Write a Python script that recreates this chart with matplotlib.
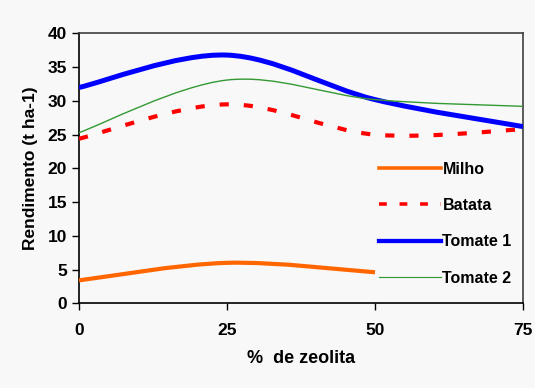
import numpy as np
import matplotlib
matplotlib.use("Agg")
import matplotlib.pyplot as plt
from matplotlib.path import Path
from matplotlib.patches import PathPatch
from matplotlib.lines import Line2D

x_milho = [0, 25, 50]
milho = [3.4, 6.0, 4.6]
x_all = [0, 25, 50, 75]
batata = [24.4, 29.5, 25.0, 25.8]
tomate1 = [32.0, 36.8, 30.2, 26.2]
tomate2 = [25.3, 33.1, 30.2, 29.2]

xticks = [0, 25, 50, 75]
yticks = [0, 5, 10, 15, 20, 25, 30, 35, 40]

plt.rcParams['font.family'] = ['Liberation Sans', 'DejaVu Sans']
plt.rcParams['font.weight'] = 'bold'

fig = plt.figure(figsize=(5.35, 3.88), dpi=100, facecolor='#f8f8f8')
ax = fig.add_axes([79/535, 1-303.3/388, 444/535, 269.8/388])
ax.set_facecolor('#f8f8f8')


def smooth_path(xs, ys):
    pts = np.column_stack([xs, ys]).astype(float)
    n = len(pts)
    verts = [pts[0]]
    codes = [Path.MOVETO]
    for i in range(n - 1):
        p0 = pts[i - 1] if i > 0 else pts[i]
        p1 = pts[i]
        p2 = pts[i + 1]
        p3 = pts[i + 2] if i + 2 < n else pts[i + 1]
        c1 = p1 + (p2 - p0) / 6.0
        c2 = p2 - (p3 - p1) / 6.0
        verts += [c1, c2, p2]
        codes += [Path.CURVE4] * 3
    return Path(verts, codes)


series = [
    (x_milho, milho, '#ff6600', 3.0, '-', 'Milho'),
    (x_all, batata, '#ff0000', 3.0, (0, (2.2, 3.6)), 'Batata'),
    (x_all, tomate1, '#0000ff', 3.6, '-', 'Tomate 1'),
    (x_all, tomate2, '#339933', 1.0, '-', 'Tomate 2'),
]
handles = []
for xs, ys, c, lw, ls, lab in series:
    patch = PathPatch(smooth_path(xs, ys), facecolor='none', edgecolor=c,
                      lw=lw, linestyle=ls, capstyle='butt', zorder=3)
    ax.add_patch(patch)
    handles.append(Line2D([], [], color=c, lw=lw * 0.85, linestyle=ls, label=lab))

ax.set_xlim(0, 75)
ax.set_ylim(0, 40)
ax.set_xticks(xticks)
ax.set_yticks(yticks)
ax.tick_params(axis='both', direction='out', length=5, width=1,
               colors='black', labelsize=12.5)
ax.tick_params(axis='x', pad=9)
for lab in ax.get_xticklabels() + ax.get_yticklabels():
    lab.set_fontweight('bold')
for s in ['left', 'bottom']:
    ax.spines[s].set_color('black')
    ax.spines[s].set_linewidth(1.2)
for s in ['top', 'right']:
    ax.spines[s].set_color('#404040')
    ax.spines[s].set_linewidth(1.2)

ax.set_ylabel('Rendimento (t ha-1)', fontsize=12.5, fontweight='bold', labelpad=7)
ax.set_xlabel('%  de zeolita', fontsize=13, fontweight='bold', labelpad=9)

leg = ax.legend(handles=handles, loc='center left', bbox_to_anchor=(0.643, 0.295),
                frameon=False, handlelength=3.9, handletextpad=0.08,
                labelspacing=1.33, prop={'size': 11.5, 'weight': 'bold'})

fig.savefig('out.png', dpi=100, facecolor=fig.get_facecolor())
